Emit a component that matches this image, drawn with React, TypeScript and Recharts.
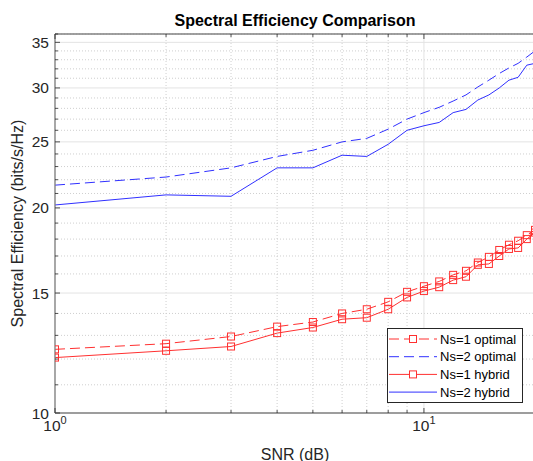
import React from 'react';
import { LineChart, Line, XAxis, YAxis, CartesianGrid, Legend } from 'recharts';

// ---------- data ----------
const snr = [1, 2, 3, 4, 5, 6, 7, 8, 9, 10, 11, 12, 13, 14, 15, 16, 17, 18, 19, 20];
const ns1Optimal = [12.4, 12.64, 12.95, 13.39, 13.6, 14.0, 14.2, 14.56, 15.06, 15.35, 15.6, 15.95, 16.17, 16.63, 16.95, 17.35, 17.66, 17.9, 18.24, 18.57];
const ns2Optimal = [21.6, 22.2, 22.9, 23.8, 24.3, 25.0, 25.3, 26.1, 27.0, 27.6, 28.1, 28.7, 29.3, 30.1, 30.8, 31.5, 32.1, 32.6, 33.3, 34.0];
const ns1Hybrid = [12.06, 12.34, 12.52, 13.1, 13.35, 13.73, 13.8, 14.2, 14.78, 15.1, 15.3, 15.67, 15.85, 16.5, 16.55, 17.0, 17.41, 17.47, 18.0, 18.4];
const ns2Hybrid = [20.2, 20.9, 20.8, 22.9, 22.9, 23.9, 23.8, 24.8, 26.0, 26.4, 26.7, 27.6, 27.9, 28.8, 29.3, 30.0, 30.8, 31.1, 32.4, 32.6];

const xMajorTicks = [1, 10];
const xMinorTicks = [2, 3, 4, 5, 6, 7, 8, 9, 20];
const yMajorTicks = [10, 15, 20, 25, 30, 35];
const yMinorTicks = [11, 12, 13, 14, 16, 17, 18, 19, 21, 22, 23, 24, 26, 27, 28, 29, 31, 32, 33, 34, 36];
const xTickLabels: Record<number, [string, string]> = { 1: ['10', '0'], 10: ['10', '1'] };
const xDomain = [1, 20];
const yDomain = [10, 36];

const title = 'Spectral Efficiency Comparison';
const xLabel = 'SNR (dB)';
const yLabel = 'Spectral Efficiency (bits/s/Hz)';

const RED = '#ff3030';
const BLUE = '#3030ff';

const series = [
  { key: 'ns1Optimal', name: 'Ns=1 optimal', color: RED, dash: '10 5', marker: true },
  { key: 'ns2Optimal', name: 'Ns=2 optimal', color: BLUE, dash: '10 5', marker: false },
  { key: 'ns1Hybrid', name: 'Ns=1 hybrid', color: RED, dash: undefined as string | undefined, marker: true },
  { key: 'ns2Hybrid', name: 'Ns=2 hybrid', color: BLUE, dash: undefined as string | undefined, marker: false },
];

const data = snr.map((s, i) => ({
  snr: s,
  ns1Optimal: ns1Optimal[i],
  ns2Optimal: ns2Optimal[i],
  ns1Hybrid: ns1Hybrid[i],
  ns2Hybrid: ns2Hybrid[i],
}));

// ---------- style ----------
const FONT = '"Liberation Sans", Arial, Helvetica, sans-serif';
const AXIS = '#808080';
const TICK = '#262626';
const TEXT = '#262626';

const XBottomTick = (props: any) => {
  const { x, y, payload } = props;
  const v = payload.value;
  const len = xMajorTicks.includes(v) ? 5 : 3;
  const lbl = xTickLabels[v];
  return (
    <g>
      <line x1={x} y1={y} x2={x} y2={y - len} stroke={TICK} strokeWidth={0.8} />
      {lbl && (
        <text x={x} y={y + 18} textAnchor="middle" fontSize={15.5} fill={TEXT} fontFamily={FONT}>
          <tspan>{lbl[0]}</tspan>
          <tspan dy={-7} fontSize={11}>{lbl[1]}</tspan>
        </text>
      )}
    </g>
  );
};

const XTopTick = (props: any) => {
  const { x, y, payload } = props;
  const len = xMajorTicks.includes(payload.value) ? 5 : 3;
  return <line x1={x} y1={y} x2={x} y2={y + len} stroke={TICK} strokeWidth={0.8} />;
};

const YLeftTick = (props: any) => {
  const { x, y, payload } = props;
  const v = payload.value;
  const major = yMajorTicks.includes(v);
  const len = major ? 5 : 3;
  return (
    <g>
      <line x1={x} y1={y} x2={x + len} y2={y} stroke={TICK} strokeWidth={0.8} />
      {major && (
        <text x={x - 6} y={y + 5.5} textAnchor="end" fontSize={15.5} fill={TEXT} fontFamily={FONT}>
          {v}
        </text>
      )}
    </g>
  );
};

const squareDot = (color: string) => (props: any) => {
  const { cx, cy, index } = props;
  if (cx == null || cy == null) return <g key={`d${index}`} />;
  return (
    <rect key={`d${index}`} x={cx - 3.5} y={cy - 3.5} width={7} height={7} fill="none" stroke={color} strokeWidth={1} />
  );
};

const LegendBox = (props: any) => {
  const payload = props.payload || [];
  return (
    <svg width={136} height={75} style={{ display: 'block' }}>
      <rect x={0.5} y={0.5} width={135} height={74} fill="#fff" stroke="#262626" strokeWidth={1} />
      {series.map((s, i) => {
        const cy = 11 + i * 17.7;
        const entry = payload.find((p: any) => p.dataKey === s.key);
        const name = entry ? entry.value : s.name;
        return (
          <g key={s.key}>
            <line x1={2} x2={50} y1={cy} y2={cy} stroke={s.color} strokeWidth={1} strokeDasharray={s.dash} />
            {s.marker && <rect x={22.5} y={cy - 3.5} width={7} height={7} fill="#fff" stroke={s.color} strokeWidth={1} />}
            <text x={53} y={cy + 4.5} fontSize={13} fill="#000" fontFamily={FONT}>{name}</text>
          </g>
        );
      })}
    </svg>
  );
};

export default function App() {
  return (
    <div
      style={{
        position: 'fixed',
        left: 0,
        top: 0,
        width: 533,
        height: 461,
        overflow: 'hidden',
        background: '#fff',
        fontFamily: FONT,
      }}
    >
      <div
        style={{
          position: 'absolute',
          left: 0,
          top: 13,
          width: 590,
          textAlign: 'center',
          fontWeight: 'bold',
          fontSize: 16,
          lineHeight: '16px',
          color: '#000',
          zIndex: 2,
        }}
      >
        {title}
      </div>
      <LineChart width={560} height={461} data={data} margin={{ top: 33, right: 25, bottom: 47, left: 54 }}>
        {/* hidden axes used for grid lines */}
        <XAxis xAxisId="xMin" dataKey="snr" type="number" scale="log" domain={xDomain} allowDataOverflow ticks={xMinorTicks} interval={0} hide />
        <XAxis xAxisId="xMaj" dataKey="snr" type="number" scale="log" domain={xDomain} allowDataOverflow ticks={xMajorTicks} interval={0} hide />
        <YAxis yAxisId="yMin" type="number" scale="log" domain={yDomain} allowDataOverflow ticks={yMinorTicks} interval={0} hide />
        <YAxis yAxisId="yMaj" type="number" scale="log" domain={yDomain} allowDataOverflow ticks={yMajorTicks} interval={0} hide />
        <CartesianGrid xAxisId="xMin" yAxisId="yMin" stroke="#cfcfcf" strokeDasharray="1 2" syncWithTicks />
        <CartesianGrid xAxisId="xMaj" yAxisId="yMaj" stroke="#e3e3e3" syncWithTicks />

        {/* visible axes */}
        <XAxis
          xAxisId="x"
          dataKey="snr"
          type="number"
          scale="log"
          domain={xDomain}
          allowDataOverflow
          ticks={[...xMajorTicks, ...xMinorTicks]}
          interval={0}
          height={1}
          tickSize={0}
          tickMargin={0}
          tickLine={false}
          axisLine={{ stroke: AXIS, strokeWidth: 1.3 }}
          tick={XBottomTick}
          label={(p: any) => {
            const vb = p.viewBox || {};
            const cx = (vb.x || 0) + (vb.width || 0) / 2;
            return (
              <text x={cx} y={459.5} textAnchor="middle" fontSize={16} fill={TEXT} fontFamily={FONT}>
                {xLabel}
              </text>
            );
          }}
        />
        <XAxis
          xAxisId="xTop"
          orientation="top"
          dataKey="snr"
          type="number"
          scale="log"
          domain={xDomain}
          allowDataOverflow
          ticks={[...xMajorTicks, ...xMinorTicks]}
          interval={0}
          height={1}
          tickSize={0}
          tickMargin={0}
          tickLine={false}
          axisLine={{ stroke: AXIS, strokeWidth: 1.3 }}
          tick={XTopTick}
        />
        <YAxis
          yAxisId="y"
          type="number"
          scale="log"
          domain={yDomain}
          allowDataOverflow
          ticks={[...yMajorTicks, ...yMinorTicks]}
          interval={0}
          width={1}
          tickSize={0}
          tickMargin={0}
          tickLine={false}
          axisLine={{ stroke: AXIS, strokeWidth: 1.3 }}
          tick={YLeftTick}
          label={(p: any) => {
            const vb = p.viewBox || {};
            const cy = (vb.y || 0) + (vb.height || 0) / 2;
            return (
              <text x={23} y={cy} transform={`rotate(-90, 23, ${cy})`} textAnchor="middle" fontSize={16} fill={TEXT} fontFamily={FONT}>
                {yLabel}
              </text>
            );
          }}
        />

        {series.map((s) => (
          <Line
            key={s.key}
            xAxisId="x"
            yAxisId="y"
            type="linear"
            dataKey={s.key}
            name={s.name}
            stroke={s.color}
            strokeWidth={1}
            strokeDasharray={s.dash}
            dot={s.marker ? squareDot(s.color) : false}
            activeDot={false}
            isAnimationActive={false}
          />
        ))}

        <Legend
          layout="horizontal"
          verticalAlign="middle"
          align="center"
          content={LegendBox}
          wrapperStyle={{ left: 387, top: 328, width: 136, height: 75 }}
        />
      </LineChart>
    </div>
  );
}
